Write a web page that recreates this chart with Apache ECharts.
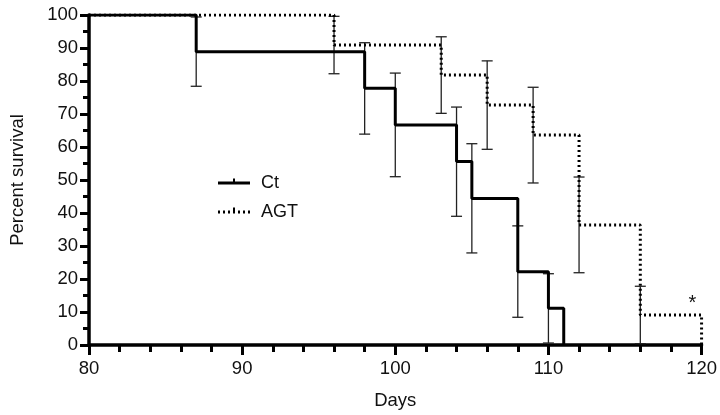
<!DOCTYPE html>
<html>
<head>
<meta charset="utf-8">
<script src="https://cdn.jsdelivr.net/npm/echarts@6/dist/echarts.min.js"></script>
<style>html,body{margin:0;padding:0;background:#fff}#c{width:720px;height:415px}</style>
</head>
<body>
<div id="c"></div>
<script>
// Kaplan-Meier step points [day, percent]
var ctDays   = [80, 87, 98, 100, 104, 105, 108, 110, 111];
var ctSurv   = [100, 88.9, 77.8, 66.7, 55.6, 44.4, 22.2, 11.1, 0];
var agtDays  = [80, 96, 103, 106, 109, 112, 116, 120];
var agtSurv  = [100, 90.9, 81.8, 72.7, 63.6, 36.4, 9.1, 0];
// Error bars (at each drop)
var ctBarX   = [87, 98, 100, 104, 105, 108, 110];
var ctLow    = [78.4, 63.9, 51.0, 39.0, 27.9, 8.4, 0.6];
var ctHigh   = [99.4, 91.6, 82.4, 72.1, 61.0, 36.1, 21.6];
var agtBarX  = [96, 103, 106, 109, 112, 116];
var agtLow   = [82.2, 70.2, 59.3, 49.1, 21.9, 0.4];
var agtHigh  = [99.6, 93.4, 86.1, 78.1, 50.9, 17.8];
var xTicks   = [80, 90, 100, 110, 120];
var yTicks   = [0, 10, 20, 30, 40, 50, 60, 70, 80, 90, 100];
var seriesNames = ['Ct', 'AGT'];
var starPos  = [119.4, 12.5];

var FONT = 'Liberation Sans, Arial, Helvetica, sans-serif';
function zip(a, b) { return a.map(function (v, i) { return [v, b[i]]; }); }
function bars(x, lo, hi) { return x.map(function (v, i) { return [v, lo[i], hi[i]]; }); }

function renderBar(params, api) {
  var x = api.value(0);
  var p1 = api.coord([x, api.value(1)]);
  var p2 = api.coord([x, api.value(2)]);
  var hw = 5.5;
  var st = { stroke: '#222', lineWidth: 1.3 };
  return {
    type: 'group',
    children: [
      { type: 'line', shape: { x1: p1[0], y1: p1[1], x2: p2[0], y2: p2[1] }, style: st },
      { type: 'line', shape: { x1: p1[0] - hw, y1: p1[1], x2: p1[0] + hw, y2: p1[1] }, style: st },
      { type: 'line', shape: { x1: p2[0] - hw, y1: p2[1], x2: p2[0] + hw, y2: p2[1] }, style: st }
    ]
  };
}

function renderStar(params, api) {
  var p = api.coord([api.value(0), api.value(1)]);
  return { type: 'text', x: p[0], y: p[1],
    style: { text: '*', font: '20px ' + FONT, fill: '#111', align: 'center', verticalAlign: 'middle' } };
}

function legendItem(y, name, dotted) {
  return [
    { type: 'line', shape: { x1: 218, y1: y, x2: 250, y2: y },
      style: { stroke: '#000', lineWidth: 3, lineDash: dotted ? [2, 3] : null } },
    { type: 'line', shape: { x1: 234, y1: y - 4.5, x2: 234, y2: y },
      style: { stroke: '#000', lineWidth: 2 } },
    { type: 'text', x: 261, y: y, style: { text: name, font: '18px ' + FONT, fill: '#111', textVerticalAlign: 'middle', verticalAlign: 'middle' } }
  ];
}

var chart = echarts.init(document.getElementById('c'), null, { renderer: 'canvas' });
chart.setOption({
  animation: false,
  backgroundColor: '#fff',
  grid: { left: 89, right: 16, top: 15, bottom: 69 },
  graphic: legendItem(183, seriesNames[0], false).concat(legendItem(212, seriesNames[1], true)),
  xAxis: {
    type: 'value', min: 80, max: 120, interval: 10,
    name: 'Days', nameLocation: 'middle', nameGap: 46,
    nameTextStyle: { fontFamily: FONT, fontSize: 18.5, color: '#111' },
    axisLine: { lineStyle: { color: '#000', width: 3.5 } },
    axisTick: { length: 10, lineStyle: { color: '#000', width: 3 } },
    minorTick: { show: true, splitNumber: 5, length: 7, lineStyle: { color: '#000', width: 3 } },
    axisLabel: { fontFamily: FONT, fontSize: 18.5, color: '#111', margin: 14,
      formatter: function (v) { return xTicks.indexOf(v) >= 0 ? String(v) : ''; } },
    splitLine: { show: false }
  },
  yAxis: {
    type: 'value', min: 0, max: 100, interval: 10,
    name: 'Percent survival', nameLocation: 'middle', nameGap: 62,
    nameTextStyle: { fontFamily: FONT, fontSize: 18.5, color: '#111' },
    axisLine: { show: true, lineStyle: { color: '#000', width: 3.5 } },
    axisTick: { show: true, length: 9, lineStyle: { color: '#000', width: 3 } },
    minorTick: { show: true, splitNumber: 2, length: 6, lineStyle: { color: '#000', width: 3 } },
    axisLabel: { fontFamily: FONT, fontSize: 18.5, color: '#111', margin: 11,
      formatter: function (v) { return yTicks.indexOf(v) >= 0 ? String(v) : ''; } },
    splitLine: { show: false }
  },
  series: [
    {
      name: seriesNames[0], type: 'line', step: 'end', data: zip(ctDays, ctSurv),
      showSymbol: false, symbol: 'none',
      lineStyle: { color: '#000', width: 3 }, z: 3
    },
    {
      name: seriesNames[1], type: 'line', step: 'end', data: zip(agtDays, agtSurv),
      showSymbol: false, symbol: 'none',
      lineStyle: { color: '#000', width: 3, type: [2, 3] }, z: 3
    },
    {
      name: 'CtErr', type: 'custom', renderItem: renderBar, data: bars(ctBarX, ctLow, ctHigh), z: 2
    },
    {
      name: 'AGTErr', type: 'custom', renderItem: renderBar, data: bars(agtBarX, agtLow, agtHigh), z: 2
    },
    {
      name: 'star', type: 'custom', renderItem: renderStar, data: [starPos], z: 4
    }
  ]
});
</script>
</body>
</html>
